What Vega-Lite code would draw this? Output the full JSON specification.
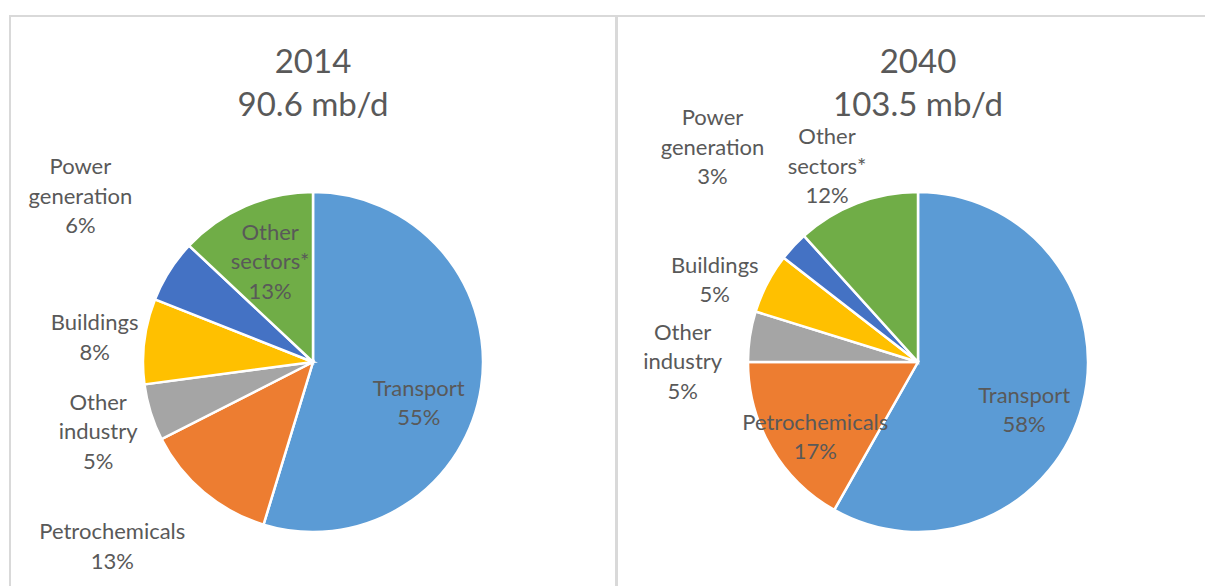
{
  "$schema": "https://vega.github.io/schema/vega-lite/v6.json",
  "padding": {"left": 9, "top": 15, "right": 0, "bottom": 0},
  "spacing": -2,
  "background": "white",
  "datasets": {
    "y2014": [
      {"Sector": "Transport", "rank": 1, "share": 54.7, "label": "Transport\n55%"},
      {"Sector": "Petrochemicals", "rank": 2, "share": 12.8, "label": "Petrochemicals\n13%"},
      {"Sector": "Other industry", "rank": 3, "share": 5.4, "label": "Other\nindustry\n5%"},
      {"Sector": "Buildings", "rank": 4, "share": 8.1, "label": "Buildings\n8%"},
      {"Sector": "Power generation", "rank": 5, "share": 6.0, "label": "Power\ngeneration\n6%"},
      {"Sector": "Other sectors*", "rank": 6, "share": 13.0, "label": "Other\nsectors*\n13%"}
    ],
    "y2040": [
      {"Sector": "Transport", "rank": 1, "share": 58.2, "label": "Transport\n58%"},
      {"Sector": "Petrochemicals", "rank": 2, "share": 16.8, "label": "Petrochemicals\n17%"},
      {"Sector": "Other industry", "rank": 3, "share": 4.8, "label": "Other\nindustry\n5%"},
      {"Sector": "Buildings", "rank": 4, "share": 5.7, "label": "Buildings\n5%"},
      {"Sector": "Power generation", "rank": 5, "share": 2.8, "label": "Power\ngeneration\n3%"},
      {"Sector": "Other sectors*", "rank": 6, "share": 11.7, "label": "Other\nsectors*\n12%"}
    ]
  },
  "hconcat": [
    {
      "width": 606,
      "height": 692,
      "view": {"stroke": "#d9d9d9", "strokeWidth": 2},
      "data": {"name": "y2014"},
      "title": {"text": ["2014", "90.6 mb/d"]},
      "encoding": {
        "theta": {"field": "share", "type": "quantitative", "stack": true},
        "order": {"field": "rank", "type": "quantitative"}
      },
      "layer": [
        {
          "mark": {"type": "arc", "outerRadius": 170, "stroke": "white", "strokeWidth": 2.5},
          "encoding": {
            "color": {
              "field": "Sector", "type": "nominal", "legend": null,
              "scale": {
                "domain": ["Transport", "Petrochemicals", "Other industry", "Buildings", "Power generation", "Other sectors*"],
                "range": ["#5B9BD5", "#ED7D31", "#A5A5A5", "#FFC000", "#4472C4", "#70AD47"]
              }
            }
          }
        },
        {"mark": {"type": "text", "radius": 113, "dx": -6, "dy": 10, "lineBreak": "\n"},
         "encoding": {"text": {"condition": {"test": "datum.Sector === 'Transport'", "field": "label"}, "value": ""}}},
        {"mark": {"type": "text", "radius": 108, "dy": -30, "lineBreak": "\n"},
         "encoding": {"text": {"condition": {"test": "datum.Sector === 'Other sectors*'", "field": "label"}, "value": ""}}},
        {"mark": {"type": "text", "radius": 285, "dx": 8, "dy": -42, "lineBreak": "\n"},
         "encoding": {"text": {"condition": {"test": "datum.Sector === 'Power generation'", "field": "label"}, "value": ""}}},
        {"mark": {"type": "text", "radius": 220, "dy": -12, "lineBreak": "\n"},
         "encoding": {"text": {"condition": {"test": "datum.Sector === 'Buildings'", "field": "label"}, "value": ""}}},
        {"mark": {"type": "text", "radius": 225, "dy": -26, "lineBreak": "\n"},
         "encoding": {"text": {"condition": {"test": "datum.Sector === 'Other industry'", "field": "label"}, "value": ""}}},
        {"mark": {"type": "text", "radius": 272, "dx": -26, "dy": -38, "lineBreak": "\n"},
         "encoding": {"text": {"condition": {"test": "datum.Sector === 'Petrochemicals'", "field": "label"}, "value": ""}}}
      ]
    },
    {
      "width": 602,
      "height": 692,
      "view": {"stroke": "#d9d9d9", "strokeWidth": 2},
      "data": {"name": "y2040"},
      "title": {"text": ["2040", "103.5 mb/d"]},
      "encoding": {
        "theta": {"field": "share", "type": "quantitative", "stack": true},
        "order": {"field": "rank", "type": "quantitative"}
      },
      "layer": [
        {
          "mark": {"type": "arc", "outerRadius": 170, "stroke": "white", "strokeWidth": 2.5},
          "encoding": {
            "color": {
              "field": "Sector", "type": "nominal", "legend": null,
              "scale": {
                "domain": ["Transport", "Petrochemicals", "Other industry", "Buildings", "Power generation", "Other sectors*"],
                "range": ["#5B9BD5", "#ED7D31", "#A5A5A5", "#FFC000", "#4472C4", "#70AD47"]
              }
            }
          }
        },
        {"mark": {"type": "text", "radius": 116, "dx": -6, "dy": 4, "lineBreak": "\n"},
         "encoding": {"text": {"condition": {"test": "datum.Sector === 'Transport'", "field": "label"}, "value": ""}}},
        {"mark": {"type": "text", "radius": 127, "dx": 7, "dy": -3, "lineBreak": "\n"},
         "encoding": {"text": {"condition": {"test": "datum.Sector === 'Petrochemicals'", "field": "label"}, "value": ""}}},
        {"mark": {"type": "text", "radius": 235, "dx": -3, "dy": 6, "lineBreak": "\n"},
         "encoding": {"text": {"condition": {"test": "datum.Sector === 'Other industry'", "field": "label"}, "value": ""}}},
        {"mark": {"type": "text", "radius": 219, "dx": -9, "dy": 5, "lineBreak": "\n"},
         "encoding": {"text": {"condition": {"test": "datum.Sector === 'Buildings'", "field": "label"}, "value": ""}}},
        {"mark": {"type": "text", "radius": 298, "dx": 13, "dy": -41, "lineBreak": "\n"},
         "encoding": {"text": {"condition": {"test": "datum.Sector === 'Power generation'", "field": "label"}, "value": ""}}},
        {"mark": {"type": "text", "radius": 217, "dx": -13, "dy": -22, "lineBreak": "\n"},
         "encoding": {"text": {"condition": {"test": "datum.Sector === 'Other sectors*'", "field": "label"}, "value": ""}}}
      ]
    }
  ],
  "config": {
    "view": {"stroke": "#d9d9d9", "strokeWidth": 2},
    "text": {"font": "Lato", "fontSize": 22, "color": "#595959", "lineHeight": 29.5, "align": "center", "baseline": "middle"},
    "title": {"font": "Lato", "fontSize": 33, "fontWeight": "normal", "color": "#595959", "lineHeight": 43, "baseline": "top", "anchor": "middle", "offset": -107}
  }
}
